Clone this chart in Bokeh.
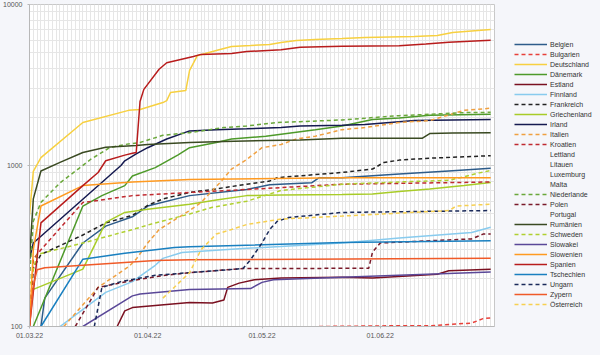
from datetime import datetime, timedelta
from bokeh.plotting import figure
from bokeh.models import (FixedTicker, NumeralTickFormatter, DatetimeTickFormatter,
                          Legend, LegendItem, Range1d)
from bokeh.embed import file_html
from bokeh.resources import INLINE

START = datetime(2022, 3, 1)

# day offsets since 01.03.22 and values
belgien_day = [3, 4, 14, 20, 27, 31, 42, 57, 63, 74, 76, 82, 97, 110, 121]
belgien_val = [100, 150, 330, 420, 480, 560, 650, 710, 760, 780, 840, 840, 885, 925, 960]
bulgarien_day = [76, 95, 105, 110, 116, 119, 121]
bulgarien_val = [100, 101, 101, 103, 105, 112, 113]
deutschland_day = [0, 1, 3, 14, 26, 29, 35, 36, 37, 41, 42, 44, 49, 53, 58, 63, 66, 70, 75, 82, 88, 101, 107, 111, 121]
deutschland_val = [490, 920, 1120, 1850, 2200, 2230, 2460, 2530, 2840, 2920, 3900, 4800, 5180, 5480, 5560, 5650, 5800, 5980, 6060, 6150, 6240, 6330, 6420, 6690, 6990]
daenemark_day = [1, 14, 19, 25, 27, 33, 39, 42, 49, 53, 62, 69, 75, 82, 90, 97, 105, 121]
daenemark_val = [100, 560, 650, 750, 860, 970, 1165, 1290, 1390, 1460, 1520, 1600, 1670, 1760, 1930, 1970, 2050, 2080]
estland_day = [23, 25, 27, 33, 42, 48, 51, 52, 55, 59, 66, 82, 90, 107, 110, 121]
estland_val = [100, 125, 131, 135, 141, 140, 146, 175, 186, 195, 200, 202, 200, 211, 222, 227]
finnland_day = [8, 20, 27, 33, 35, 40, 56, 82, 97, 116, 121]
finnland_val = [100, 163, 190, 240, 265, 288, 305, 330, 355, 384, 413]
frankreich_day = [0, 1, 3, 14, 20, 27, 31, 35, 42, 48, 57, 63, 65, 82, 90, 93, 97, 105, 121]
frankreich_val = [110, 230, 280, 370, 440, 490, 565, 620, 680, 710, 765, 800, 840, 905, 950, 1045, 1080, 1110, 1150]
griechenland_day = [1, 14, 20, 25, 31, 42, 49, 57, 66, 82, 90, 97, 105, 114, 121]
griechenland_val = [170, 227, 443, 511, 535, 575, 610, 650, 655, 660, 665, 690, 715, 750, 785]
irland_day = [0, 1, 24, 25, 28, 31, 36, 42, 49, 57, 66, 71, 82, 88, 97, 101, 121]
irland_val = [262, 330, 1000, 1070, 1180, 1290, 1460, 1640, 1670, 1690, 1720, 1760, 1780, 1800, 1870, 1900, 1930]
italien_day = [9, 18, 26, 28, 31, 34, 42, 45, 50, 53, 57, 61, 66, 70, 75, 82, 88, 97, 105, 114, 121]
italien_val = [100, 175, 235, 262, 330, 400, 525, 589, 784, 950, 1090, 1290, 1350, 1460, 1520, 1670, 1720, 1850, 1900, 2200, 2270]
kroatien_day = [0, 1, 3, 14, 27, 42, 57, 82, 121]
kroatien_val = [100, 262, 300, 589, 650, 680, 710, 765, 790]
lettland_day = []
lettland_val = []
litauen_day = []
litauen_val = []
luxemburg_day = []
luxemburg_val = []
malta_day = []
malta_val = []
niederlande_day = [0, 1, 3, 8, 13, 16, 21, 25, 29, 35, 42, 51, 57, 65, 71, 82, 97, 105, 114, 121]
niederlande_val = [200, 450, 590, 780, 960, 1090, 1290, 1350, 1390, 1540, 1600, 1720, 1760, 1850, 1870, 1920, 2040, 2080, 2130, 2140]
polen_day = [12, 18, 27, 35, 42, 56, 89, 90, 92, 110, 116, 119, 121]
polen_val = [100, 175, 193, 207, 216, 229, 230, 290, 330, 345, 350, 375, 375]
portugal_day = []
portugal_val = []
rumaenien_day = [0, 1, 3, 8, 14, 20, 28, 31, 42, 51, 62, 71, 82, 92, 103, 105, 111, 121]
rumaenien_val = [262, 620, 925, 1045, 1205, 1300, 1330, 1350, 1390, 1410, 1430, 1440, 1475, 1475, 1475, 1580, 1590, 1600]
schweden_day = [0, 2, 14, 27, 33, 42, 48, 57, 66, 82, 97, 110, 114, 118, 121]
schweden_val = [180, 280, 330, 400, 440, 500, 550, 600, 700, 765, 790, 810, 850, 900, 930]
slowakei_day = [14, 27, 29, 42, 58, 61, 64, 82, 121]
slowakei_val = [100, 155, 159, 170, 172, 188, 195, 202, 218]
slowenien_day = [0, 1, 3, 14, 27, 42, 82, 121]
slowenien_val = [100, 300, 560, 750, 790, 820, 840, 840]
spanien_day = [0, 3, 14, 18, 20, 25, 27, 28, 29, 30, 34, 36, 43, 45, 53, 57, 66, 71, 82, 97, 104, 110, 121]
spanien_val = [100, 440, 750, 905, 1070, 1160, 1190, 1205, 2500, 2970, 3960, 4350, 4750, 4900, 4960, 5100, 5230, 5420, 5500, 5550, 5680, 5820, 5990]
tschechien_day = [3, 14, 25, 33, 38, 42, 82, 121]
tschechien_val = [100, 262, 285, 300, 310, 313, 332, 341]
ungarn_day = [17, 19, 24, 33, 42, 56, 58, 61, 63, 65, 68, 82, 121]
ungarn_val = [100, 175, 190, 208, 216, 229, 260, 330, 400, 450, 475, 511, 525]
zypern_day = [0, 1, 2, 4, 33, 42, 121]
zypern_val = [100, 180, 225, 232, 257, 260, 265]
oesterreich_day = [35, 42, 45, 49, 53, 57, 66, 82, 110, 112, 121]
oesterreich_val = [150, 216, 300, 375, 400, 430, 465, 485, 525, 560, 575]

names = ["Belgien", "Bulgarien", "Deutschland", "Dänemark", "Estland", "Finnland",
         "Frankreich", "Griechenland", "Irland", "Italien", "Kroatien", "Lettland",
         "Litauen", "Luxemburg", "Malta", "Niederlande", "Polen", "Portugal",
         "Rumänien", "Schweden", "Slowakei", "Slowenien", "Spanien", "Tschechien",
         "Ungarn", "Zypern", "Österreich"]
days = [belgien_day, bulgarien_day, deutschland_day, daenemark_day, estland_day, finnland_day,
        frankreich_day, griechenland_day, irland_day, italien_day, kroatien_day, lettland_day,
        litauen_day, luxemburg_day, malta_day, niederlande_day, polen_day, portugal_day,
        rumaenien_day, schweden_day, slowakei_day, slowenien_day, spanien_day, tschechien_day,
        ungarn_day, zypern_day, oesterreich_day]
vals = [belgien_val, bulgarien_val, deutschland_val, daenemark_val, estland_val, finnland_val,
        frankreich_val, griechenland_val, irland_val, italien_val, kroatien_val, lettland_val,
        litauen_val, luxemburg_val, malta_val, niederlande_val, polen_val, portugal_val,
        rumaenien_val, schweden_val, slowakei_val, slowenien_val, spanien_val, tschechien_val,
        ungarn_val, zypern_val, oesterreich_val]

colors = ["#2e5c8a", "#e8403a", "#f7d040", "#4e9a2a", "#7a1020", "#88cbee",
          "#222222", "#a8cc28", "#151a50", "#f0a040", "#c02a30", "#2a8ac8",
          "#222222", "#f06040", "#f7d050", "#6aa83a", "#7a1a2a", "#88cbee",
          "#3a4a22", "#b0d030", "#5a4898", "#ff9a20", "#b81c1c", "#1a80c0",
          "#1a2a5a", "#f05a28", "#f7d050"]
dashes = ["solid", "dashed", "solid", "solid", "solid", "solid",
          "dashed", "solid", "solid", "dashed", "dashed", "dashed",
          "dotted", "dotted", "dotted", "dashed", "dashed", "dashed",
          "solid", "dashed", "solid", "solid", "solid", "solid",
          "dashed", "solid", "dashed"]
dash_map = {"solid": "solid", "dashed": "4 3", "dotted": "1 2"}

to_ms = lambda dt: (dt - datetime(1970, 1, 1)).total_seconds() * 1000

def to_x(dlist):
    return [to_ms(START + timedelta(days=d)) for d in dlist]

FW, FH = 465, 322
p = figure(frame_width=FW, frame_height=FH, x_axis_type="datetime", y_axis_type="log",
           x_range=Range1d(to_ms(START), to_ms(START + timedelta(days=122))),
           y_range=Range1d(100, 10000),
           output_backend="svg", toolbar_location=None,
           min_border_left=29, min_border_top=4, min_border_right=0, min_border_bottom=13)

p.background_fill_color = "white"
p.border_fill_color = "#f5f6fa"
p.outline_line_color = "#c8c8c8"

p.xaxis.ticker = FixedTicker(ticks=to_x([0, 31, 61, 92]), minor_ticks=to_x(range(0, 123)))
p.xaxis.formatter = DatetimeTickFormatter(days="%d.%m.%y", months="%d.%m.%y",
                                          years="%d.%m.%y", hours="%d.%m.%y")
p.yaxis.ticker = FixedTicker(ticks=[100, 1000, 10000],
                             minor_ticks=[200, 300, 400, 500, 600, 700, 800, 900,
                                          2000, 3000, 4000, 5000, 6000, 7000, 8000, 9000])
p.yaxis.formatter = NumeralTickFormatter(format="0")

for ax in (p.xaxis, p.yaxis):
    ax.axis_line_color = "#b8b8b8"
    ax.major_tick_line_color = "#b8b8b8"
    ax.minor_tick_line_color = None
    ax.major_tick_out = 2
    ax.major_tick_in = 0
    ax.major_label_text_font = "Liberation Sans"
    ax.major_label_text_font_size = "7px"
    ax.major_label_text_color = "#555555"
p.yaxis.major_label_standoff = 3
p.xaxis.major_label_standoff = 2

p.xgrid.grid_line_color = "#d4d4d4"
p.ygrid.grid_line_color = "#d4d4d4"
p.xgrid.minor_grid_line_color = "#e6e6e6"
p.ygrid.minor_grid_line_color = "#e6e6e6"

items = []
for n, d, v, c, ds in zip(names, days, vals, colors, dashes):
    r = p.line(to_x(d), v, line_color=c, line_width=1.5, line_dash=dash_map[ds])
    items.append(LegendItem(label=n, renderers=[r]))

legend = Legend(items=items, location="top_left", title=" ")
legend.title_text_font_size = "7px"
legend.title_standoff = 8
legend.label_text_font = "Liberation Sans"
legend.label_text_font_size = "7px"
legend.label_text_color = "#333333"
legend.glyph_width = 33
legend.glyph_height = 10
legend.label_height = 10
legend.label_width = 40
legend.spacing = 0
legend.padding = 3
legend.margin = 17
legend.label_standoff = 3
legend.border_line_alpha = 0
legend.background_fill_alpha = 0
p.add_layout(legend, "right")

html = file_html(p, INLINE)
html = html.replace("<head>", "<head><style>body{background:#f5f6fa;}</style>", 1)
open("out.html", "w").write(html)
